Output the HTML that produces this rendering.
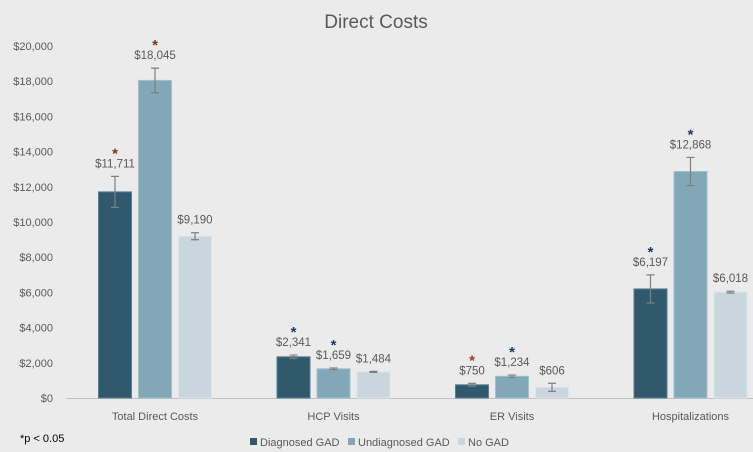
<!DOCTYPE html>
<html><head><meta charset="utf-8"><style>
body{margin:0;background:#ebebeb;}
svg{display:block;font-family:"Liberation Sans",sans-serif;}
</style></head><body>
<svg id="c" width="753" height="452"></svg>
<script>
const categories=["Total Direct Costs","HCP Visits","ER Visits","Hospitalizations"];
const diagnosed=[11711,2341,750,6197];
const undiagnosed=[18045,1659,1234,12868];
const noGad=[9190,1484,606,6018];
const errDiag=[880,100,80,800];
const errUndiag=[700,50,70,800];
const errNo=[200,30,230,50];
const starDiag=[1,1,1,1];
const starUndiag=[1,1,1,1];
const starColorsDiag=["#7a3a10","#1f3864","#a0400c","#1f3864"];
const starColorsUndiag=["#7a3a10","#1f3864","#1f3864","#1f3864"];
const yTicks=[0,2000,4000,6000,8000,10000,12000,14000,16000,18000,20000];
const seriesNames=["Diagnosed GAD","Undiagnosed GAD","No GAD"];
const NS="http://www.w3.org/2000/svg";
const svg=document.getElementById('c');
function el(t,a,txt){const e=document.createElementNS(NS,t);for(const k in a)e.setAttribute(k,a[k]);if(txt!==undefined)e.textContent=txt;svg.appendChild(e);return e;}
const y=v=>398-v*352/20000;
const gx=i=>155+i*178.5;
const colors=["#31596e","#82a8b8","#c9d6dd"];
const strokes=["#5b7d8e","#a4c0cc","#dce5ea"];
const fmt=v=>"$"+v.toLocaleString("en-US");
let t=el('text',{x:376,y:28,'text-anchor':'middle','font-size':19,fill:'#595959'},"Direct Costs");

yTicks.forEach(v=>{const l=el('text',{x:53,y:y(v)+4,'text-anchor':'end','font-size':11,fill:'#595959'},fmt(v));
});
const ax=el('line',{x1:66,x2:753,y1:398.5,y2:398.5,stroke:'#bfbfbf'});

const series=[diagnosed,undiagnosed,noGad],errs=[errDiag,errUndiag,errNo];
categories.forEach((c,i)=>{
 const lab=el('text',{x:gx(i),y:420,'text-anchor':'middle','font-size':11,fill:'#595959'},c);
 
 series.forEach((s,j)=>{
  const cx=gx(i)+(j-1)*40, v=s[i];
  const r=el('rect',{x:cx-16.5,y:y(v),width:33,height:398-y(v),fill:colors[j],stroke:strokes[j],'stroke-width':1});
  
  const e=errs[j][i];
  const eb=el('path',{d:`M${cx} ${y(v+e)}V${y(v-e)}M${cx-4} ${y(v+e)}H${cx+4}M${cx-4} ${y(v-e)}H${cx+4}`,stroke:'#7f7f7f','stroke-width':1.2,fill:'none'});
  
  const ly=Math.min(y(v+e),y(v))-9;
  const vl=el('text',{x:cx,y:ly,'text-anchor':'middle','font-size':11.5,fill:'#595959'},fmt(v));
  
  if(j<2&&(j==0?starDiag:starUndiag)[i]){
   const st=el('text',{x:cx,y:ly-9,'text-anchor':'middle','font-size':15,'font-weight':'bold',fill:(j==0?starColorsDiag:starColorsUndiag)[i]},"*");
   
  }
 });
});
const fn=el('text',{x:20,y:442,'font-size':11,fill:'#000'},"*p < 0.05");

const lx=[250,348,458];
seriesNames.forEach((n,j)=>{
 const sq=el('rect',{x:lx[j],y:438,width:7,height:7,fill:colors[j]});
 
 const tx=el('text',{x:lx[j]+10,y:446,'font-size':11,fill:'#595959'},n);
 
});
</script>
</body></html>
